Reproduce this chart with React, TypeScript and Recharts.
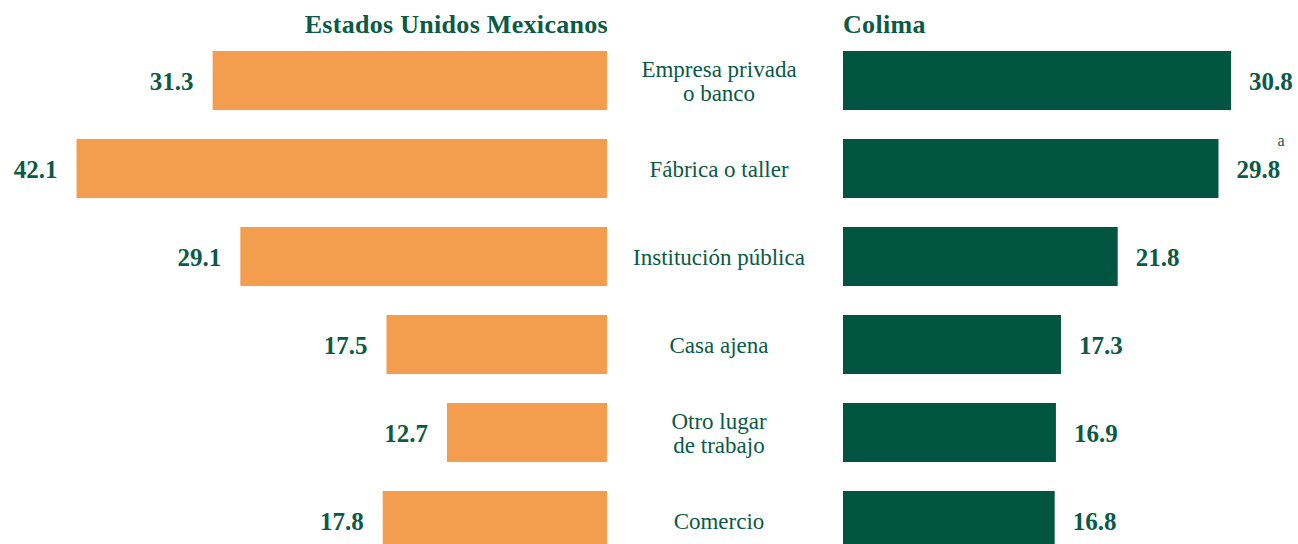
import { Bar, BarChart, LabelList, XAxis, YAxis } from "recharts";

// Porcentaje por lugar de trabajo: nacional vs. Colima
const CATEGORIAS = [
  "Empresa privada\no banco",
  "Fábrica o taller",
  "Institución pública",
  "Casa ajena",
  "Otro lugar\nde trabajo",
  "Comercio",
];
const NACIONAL = [31.3, 42.1, 29.1, 17.5, 12.7, 17.8];
const COLIMA = [30.8, 29.8, 21.8, 17.3, 16.9, 16.8];
const NOTAS = ["", "a", "", "", "", ""];

const DATA = CATEGORIAS.map((cat, i) => ({
  cat,
  nacional: NACIONAL[i],
  colima: COLIMA[i],
  nota: NOTAS[i],
}));

const ORANGE = "#F29E4E";
const GREEN = "#015541";
const TEXT = "#0B5A45";
const FONT = '"Liberation Serif", "Times New Roman", serif';

const ValueLabel = (side: "left" | "right") => (props: any) => {
  const { x, y, width, height, value, index } = props;
  const cy = Number(y) + Number(height) / 2;
  const x0 = Math.min(Number(x), Number(x) + Number(width));
  const x1 = Math.max(Number(x), Number(x) + Number(width));
  const nota = side === "right" ? NOTAS[index] : "";
  return (
    <g>
      <text
        x={side === "left" ? x0 - 19 : x1 + 18}
        y={cy + 9.5}
        textAnchor={side === "left" ? "end" : "start"}
        fill={TEXT}
        fontFamily={FONT}
        fontWeight="bold"
        fontSize={25}
      >
        {Number(value).toFixed(1)}
      </text>
      {nota ? (
        <text x={x1 + 59} y={cy - 23} fill={TEXT} fontFamily={FONT} fontSize={16}>
          {nota}
        </text>
      ) : null}
    </g>
  );
};

const CategoryTick = (props: any) => {
  const { x, y, payload } = props;
  const lines = String(payload.value).split("\n");
  const lh = 24;
  const cx = Number(x) - 124;
  const start = lines.length > 1 ? Number(y) - 3 : Number(y) + 8.5;
  return (
    <text textAnchor="middle" fill={TEXT} fontFamily={FONT} fontSize={23}>
      {lines.map((l, i) => (
        <tspan key={i} x={cx} y={start + i * lh}>
          {l}
        </tspan>
      ))}
    </text>
  );
};

const titleStyle: React.CSSProperties = {
  position: "absolute",
  top: 12,
  fontFamily: FONT,
  fontWeight: "bold",
  fontSize: 26,
  lineHeight: "26px",
  color: TEXT,
  letterSpacing: 0.3,
  whiteSpace: "nowrap",
};

export default function App() {
  return (
    <div
      style={{
        position: "fixed",
        left: 0,
        top: 0,
        width: 1298,
        height: 544,
        overflow: "hidden",
        background: "#fff",
      }}
    >
      <div style={{ ...titleStyle, right: 1298 - 608, textAlign: "right" }}>
        Estados Unidos Mexicanos
      </div>
      <div style={{ ...titleStyle, left: 843 }}>Colima</div>

      <div style={{ position: "absolute", left: 0, top: 0 }}>
        <BarChart
          width={607}
          height={564}
          data={DATA}
          layout="vertical"
          margin={{ top: 36, right: 0, bottom: 0, left: 2.2 }}
        >
          <XAxis type="number" domain={[0, 48]} reversed hide />
          <YAxis type="category" dataKey="cat" hide />
          <Bar dataKey="nacional" fill={ORANGE} barSize={59} isAnimationActive={false}>
            <LabelList dataKey="nacional" content={ValueLabel("left")} />
          </Bar>
        </BarChart>
      </div>

      <div style={{ position: "absolute", left: 607, top: 0 }}>
        <BarChart
          width={691}
          height={564}
          data={DATA}
          layout="vertical"
          margin={{ top: 36, right: 1.4, bottom: 0, left: 0 }}
        >
          <XAxis type="number" domain={[0, 36]} hide />
          <YAxis
            type="category"
            dataKey="cat"
            width={236}
            axisLine={false}
            tickLine={false}
            tickSize={0}
            tickMargin={0}
            tick={<CategoryTick />}
            interval={0}
          />
          <Bar dataKey="colima" fill={GREEN} barSize={59} isAnimationActive={false}>
            <LabelList dataKey="colima" content={ValueLabel("right")} />
          </Bar>
        </BarChart>
      </div>
    </div>
  );
}
